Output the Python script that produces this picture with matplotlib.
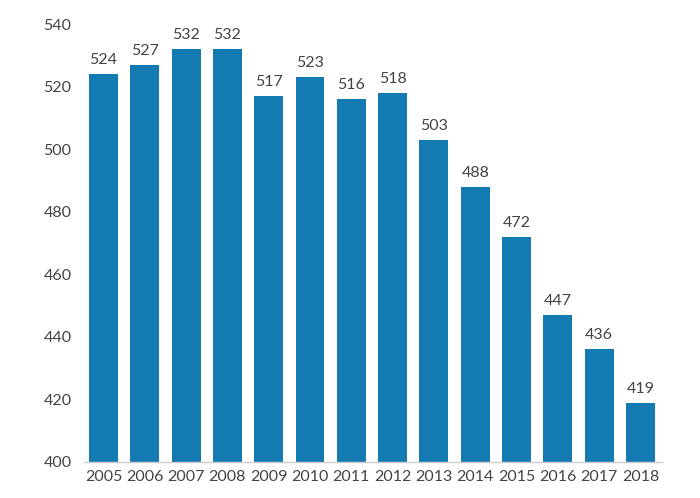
import matplotlib
matplotlib.use("Agg")
import matplotlib.pyplot as plt

years = ["2005", "2006", "2007", "2008", "2009", "2010", "2011",
         "2012", "2013", "2014", "2015", "2016", "2017", "2018"]
values = [524, 527, 532, 532, 517, 523, 516, 518, 503, 488, 472, 447, 436, 419]

plt.rcParams['font.family'] = ['Lato', 'DejaVu Sans']

fig = plt.figure(figsize=(7, 4.98), dpi=100)
ax = fig.add_axes([0.12, 0.0723, 0.8257, 0.8795])

x = list(range(len(years)))
bars = ax.bar(x, values, width=0.7, bottom=0, color="#137bb1")

for xi, v in zip(x, values):
    ax.annotate(str(v), (xi, v), xytext=(0, 5), textcoords="offset points",
                ha="center", va="bottom", fontsize=11.5, color="#444444")

ax.set_ylim(400, 540)
ax.set_xlim(-0.47, 13.52)
ax.set_yticks(range(400, 541, 20))
ax.set_xticks(x)
ax.set_xticklabels(years)
ax.tick_params(axis="both", length=0, labelsize=11.5, colors="#444444")
ax.tick_params(axis="y", pad=9)
ax.tick_params(axis="x", pad=6)

for side in ["top", "right", "left"]:
    ax.spines[side].set_visible(False)
ax.spines["bottom"].set_color("#cccccc")
ax.spines["bottom"].set_linewidth(1)

fig.savefig("out.png", dpi=100)
